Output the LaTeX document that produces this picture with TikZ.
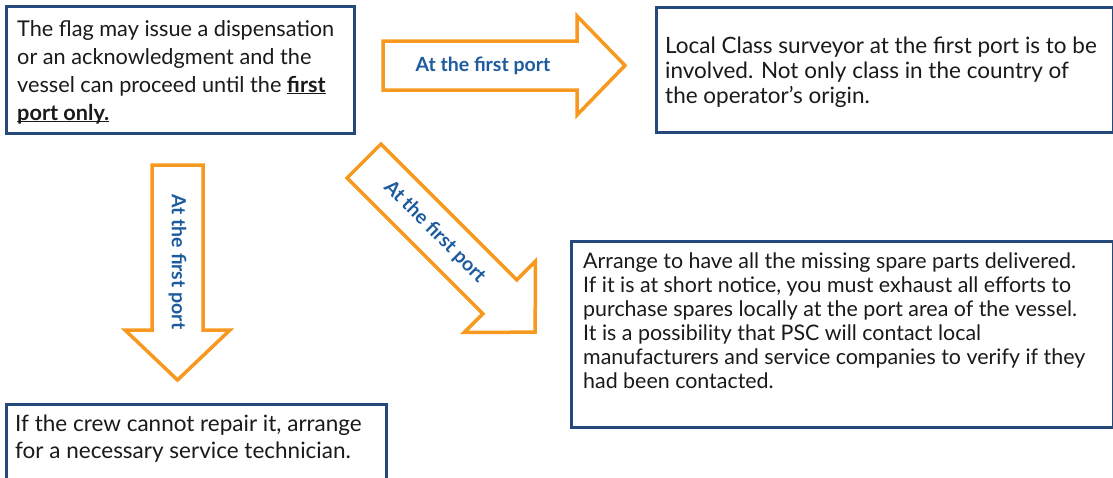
\documentclass[tikz,border=0pt]{standalone}
\usepackage{fontspec}
\setmainfont{Lato}
\definecolor{boxblue}{HTML}{24497A}
\definecolor{arrorange}{HTML}{F7991F}
\definecolor{labelblue}{HTML}{1C5B9E}
\definecolor{bodytext}{HTML}{1A1A1A}

\tikzset{
  infobox/.style={draw=boxblue, line width=2.5pt, fill=white, inner sep=0pt, anchor=north west},
  boxtext/.style={anchor=north west, inner sep=0pt, align=left, text=bodytext},
  arrowoutline/.style={draw=arrorange, line width=3.5pt, miter limit=10, fill=white},
  arrowlabel/.style={text=labelblue, font=\bfseries\fontsize{19.5}{21}\selectfont, inner sep=0pt},
}

% bold underlined words, rule kept just under the baseline
\newcommand\ulword[1]{\underline{\smash{\textbf{#1}}}}

% block arrow: name, tail x, tail y, angle, length, shaft half width,
% head half width, head length, label distance from tail
\newcommand\fatarrow[9]{%
  \begin{scope}[shift={(#2,#3)}, rotate=#4]
    \draw[arrowoutline] (0,-#6) -- ({#5-#8},-#6) -- ({#5-#8},-#7) -- (#5,0)
      -- ({#5-#8},#7) -- ({#5-#8},#6) -- (0,#6) -- cycle;
    \node[arrowlabel, rotate=#4] (#1) at (#9,0) {At the first port};
  \end{scope}}

\begin{document}
\begin{tikzpicture}[x=1pt, y=-1pt]
  \path[use as bounding box] (0,0) rectangle (1113,477);
  \clip (0,0) rectangle (1113,477);

  % boxes
  \node[infobox, minimum width=348pt, minimum height=127pt] (flag) at (5,5) {};
  \node[infobox, minimum width=457pt, minimum height=125pt] (survey) at (655,6) {};
  \node[infobox, minimum width=542pt, minimum height=186pt] (spares) at (570,240) {};
  \node[infobox, minimum width=380pt, minimum height=90pt] (tech) at (5,403) {};

  % box texts
  \node[boxtext, font=\fontsize{21.7}{27.8}\selectfont] (flagtext) at (17,20.5)
    {The flag may issue a dispensation\\
     or an acknowledgment and the\\
     vessel can proceed until the \ulword{first}\\
     \ulword{port only.}};
  \node[boxtext, font=\fontsize{22.5}{25}\selectfont] (surveytext) at (665,36.5)
    {Local Class surveyor at the first port is to be\\
     involved. Not only class in the country of\\
     the operator’s origin.};
  \node[boxtext, font=\fontsize{21.4}{24}\selectfont] (sparestext) at (583,252.5)
    {Arrange to have all the missing spare parts delivered.\\
     If it is at short notice, you must exhaust all efforts to\\
     purchase spares locally at the port area of the vessel.\\
     It is a possibility that PSC will contact local\\
     manufacturers and service companies to verify if they\\
     had been contacted.};
  \node[boxtext, font=\fontsize{22.5}{27}\selectfont] (techtext) at (15,415)
    {If the crew cannot repair it, arrange\\
     for a necessary service technician.};

  % arrows
  \fatarrow{rightlabel}{383}{65.5}{0}{242}{24.5}{49.5}{48}{100}
  \fatarrow{downlabel}{177.5}{165}{-90}{215}{25.5}{52.5}{50}{97}
  \fatarrow{diaglabel}{364}{161}{-45}{242}{24}{50.5}{50}{100}
\end{tikzpicture}
\end{document}
